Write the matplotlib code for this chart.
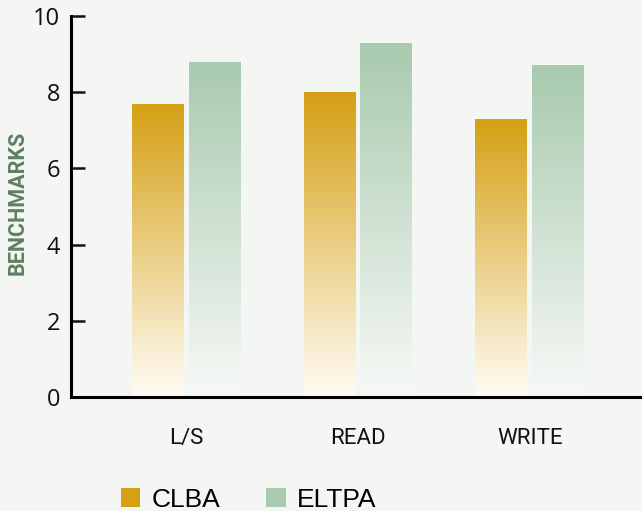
import numpy as np
import matplotlib
matplotlib.use("Agg")
import matplotlib.pyplot as plt
from matplotlib.colors import LinearSegmentedColormap
from matplotlib.patches import Rectangle, Patch

categories = ["L/S", "READ", "WRITE"]
series_names = ["CLBA", "ELTPA"]
clba = [7.7, 8.0, 7.3]
eltpa = [8.8, 9.3, 8.7]
y_ticks = [0, 2, 4, 6, 8, 10]

BG = "#F4F6F3"
top_colors = ["#D5A014", "#A8CAAE"]
bottom_colors = ["#FFFCF5", "#F7F9F7"]

fig = plt.figure(figsize=(6.42, 5.11), dpi=100, facecolor=BG)
ax = fig.add_axes([0.1106, 0.223, 0.889, 0.746], facecolor=BG)
ax.set_xlim(-0.669, 2.651)
ax.set_ylim(0, 10)

width = 0.302
gap = 0.029
x = np.arange(len(categories))
offsets = [-(width + gap) / 2, (width + gap) / 2]

# vertical gradient fill for each bar, clipped to the bar rectangle
grad = np.linspace(0, 1, 256).reshape(-1, 1)
for values, off, top, bot in zip([clba, eltpa], offsets, top_colors, bottom_colors):
    cmap = LinearSegmentedColormap.from_list("g", [bot, top])
    for xi, v in zip(x, values):
        x0 = xi + off - width / 2
        rect = Rectangle((x0, 0), width, v, facecolor="none", edgecolor="none")
        ax.add_patch(rect)
        im = ax.imshow(grad, extent=(x0, x0 + width, 0, v), origin="lower",
                       cmap=cmap, aspect="auto", zorder=2, interpolation="bilinear")
        im.set_clip_path(rect)

for s in ["top", "right"]:
    ax.spines[s].set_visible(False)
for s in ["left", "bottom"]:
    ax.spines[s].set_linewidth(2.2)
    ax.spines[s].set_zorder(5)

ax.set_yticks(y_ticks)
ax.set_yticklabels([str(t) for t in y_ticks], fontfamily="Open Sans", fontsize=17)
ax.tick_params(axis="y", direction="in", length=10, width=1.8, pad=8, colors="#111111")
ax.set_xticks(x)
ax.set_xticklabels(categories, fontfamily="Roboto", fontsize=16)
ax.tick_params(axis="x", length=0, pad=22, colors="#111111")

fig.text(18 / 642, 1 - 203 / 511, "BENCHMARKS", rotation=90, ha="center", va="center",
         fontfamily="Roboto", fontweight="bold", fontsize=15.5, color="#5F8060")

handles = [Patch(facecolor=c, edgecolor="none") for c in top_colors]
fig.legend(handles, series_names, loc="center left", bbox_to_anchor=(0.151, 0.022),
           ncol=2, frameon=False, prop={"family": "Liberation Sans", "size": 19},
           handlelength=0.75, handleheight=0.75, handletextpad=0.42, columnspacing=1.75)

fig.savefig("out.png", dpi=100, facecolor=BG)
